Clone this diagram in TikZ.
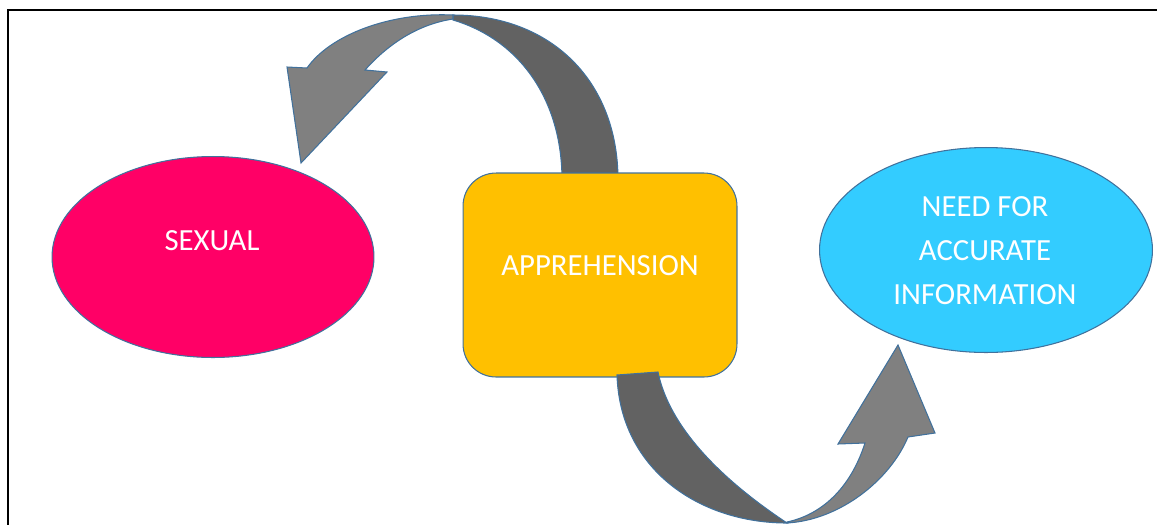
\documentclass[tikz,border=0pt]{standalone}
\usepackage{fontspec}
\setmainfont{Carlito}
\usetikzlibrary{shapes.geometric,calc,positioning}
\definecolor{sexpink}{HTML}{FF0066}
\definecolor{apryellow}{HTML}{FFC000}
\definecolor{infoblue}{HTML}{33CCFF}
\definecolor{edgeblue}{HTML}{41719C}
\definecolor{arrlight}{HTML}{808080}
\definecolor{arrdark}{HTML}{626262}

\begin{document}
\begin{tikzpicture}[x=0.02cm, y=-0.02cm]
  \def\lw{0.6pt}
  \tikzset{
    bubble/.style={ellipse, draw=edgeblue, line width=\lw, inner sep=0pt},
    lbl/.style={text=white, font=\fontsize{17.5}{25}\selectfont, align=center},
    band/.style={draw=edgeblue, line width=\lw, line join=miter}
  }
  \useasboundingbox (0,0) rectangle (1157,525);

  % page frame
  \draw[line width=1.1pt] (1157,10) -- (8,10) -- (8,525);

  % Upper arrow: back part (dark) then front part with head
  \filldraw[band, fill=arrdark] (453,15) .. controls (550,15) and (618,80) .. (618,180)
    -- (562,180) .. controls (562,100) and (520,40) .. (453,20) -- cycle;
  \filldraw[band, fill=arrlight] (453,15) .. controls (390,12) and (330,35) .. (307,68)
    -- (287,67) -- (301,163) -- (387,72) -- (365,70)
    .. controls (390,42) and (420,24) .. (453,19) -- cycle;

  % Nodes
  \node[bubble, fill=sexpink, minimum width=6.44cm, minimum height=4.02cm] (sexual) at (213,257) {};
  \node[lbl] (sexualtxt) at (212,241) {SEXUAL};

  \node[draw=edgeblue, line width=\lw, fill=apryellow, rounded corners=0.66cm,
        minimum width=5.48cm, minimum height=4.08cm] (appr) at (600,275) {};
  \node[lbl] (apprtxt) at (600,266) {APPREHENSION};

  \node[bubble, fill=infoblue, minimum width=6.66cm, minimum height=4.1cm] (info) at (986,250) {};
  \node[lbl] (infotxt) at (985,251) {NEED FOR\\ACCURATE\\INFORMATION};

  % Lower arrow: back part (dark) over the box, then front part with head
  \filldraw[band, fill=arrdark] (617,375) .. controls (620,470) and (700,523) .. (787,523)
    .. controls (745,495) and (672,440) .. (658,372) -- cycle;
  \filldraw[band, fill=arrlight] (787,523) .. controls (840,520) and (890,480) .. (908,437)
    -- (935,433) -- (898,345) -- (838,444) -- (865,443)
    .. controls (850,490) and (820,515) .. (787,522) -- cycle;

\end{tikzpicture}
\end{document}
